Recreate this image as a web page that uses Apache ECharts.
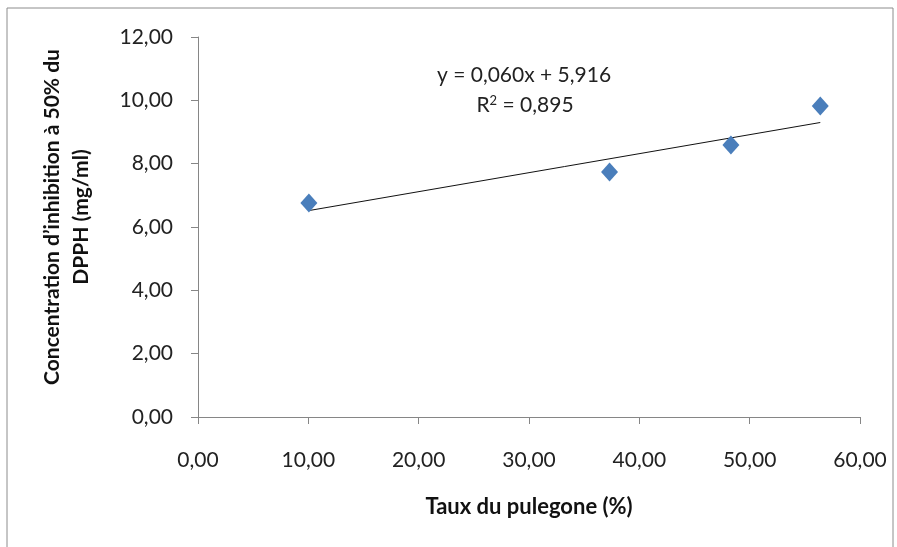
<!DOCTYPE html>
<html><head><meta charset="utf-8">
<script src="https://cdn.jsdelivr.net/npm/echarts@6/dist/echarts.min.js"></script>
<style>html,body{margin:0;padding:0;background:#fff}#c{width:897px;height:547px}</style>
</head><body><div id="c"></div>
<script>
const pulegone = [10.05, 37.3, 48.3, 56.4];
const ic50 = [6.76, 7.74, 8.59, 9.82];
const trendSlope = [0.060];
const trendIntercept = [5.916];
const equationLines = ['y = 0,060x + 5,916', 'R{sup|2} = 0,895'];
const xTitle = 'Taux du pulegone (%)';
const yTitle = 'Concentration d\u2019inhibition à 50% du\nDPPH (mg/ml)';

const pts = pulegone.map((x, i) => [x, ic50[i]]);
const xMin = Math.min(...pulegone), xMax = Math.max(...pulegone);
const trend = [xMin, xMax].map(x => [x, trendSlope[0] * x + trendIntercept[0]]);
const fmt = v => v.toFixed(2).replace('.', ',');
const FONT = 'Lato';

const chart = echarts.init(document.getElementById('c'), null, {renderer: 'canvas'});
chart.setOption({
  animation: false,
  backgroundColor: '#fff',
  textStyle: {fontFamily: FONT},
  grid: {left: 198, right: 37, top: 37, bottom: 130},
  graphic: [
    {type: 'rect', shape: {x: 7, y: 8, width: 886, height: 600}, style: {fill: 'none', stroke: '#8c8c8c', lineWidth: 1}, silent: true},
    {type: 'text', x: 524, y: 75, style: {text: equationLines[0], font: '21px ' + FONT, fill: '#222', align: 'center', verticalAlign: 'middle'}},
    {type: 'text', x: 525, y: 105, style: {text: equationLines[1], font: '21px ' + FONT, fill: '#222', align: 'center', verticalAlign: 'middle', rich: {sup: {fontSize: 13, verticalAlign: 'top', padding: [0, 0, 9, 0], fontFamily: FONT}}}},
    {type: 'text', x: 67, y: 217, rotation: Math.PI / 2, style: {text: yTitle, font: 'bold 21px ' + FONT, fill: '#111', align: 'center', verticalAlign: 'middle', lineHeight: 29}}
  ],
  xAxis: {
    type: 'value', min: 0, max: 60, interval: 10,
    name: xTitle, nameLocation: 'middle', nameGap: 79,
    nameTextStyle: {fontSize: 22, fontWeight: 'bold', color: '#111', fontFamily: FONT},
    axisLine: {lineStyle: {color: '#868686'}},
    axisTick: {show: true, length: 7, lineStyle: {color: '#868686'}},
    splitLine: {show: false},
    axisLabel: {formatter: fmt, fontSize: 21, color: '#222', margin: 33, fontFamily: FONT}
  },
  yAxis: {
    type: 'value', min: 0, max: 12, interval: 2,
    axisLine: {show: true, lineStyle: {color: '#868686'}},
    axisTick: {show: true, length: 7, lineStyle: {color: '#868686'}},
    splitLine: {show: false},
    axisLabel: {formatter: fmt, fontSize: 21, color: '#222', margin: 25, fontFamily: FONT}
  },
  series: [
    {type: 'line', data: trend, symbol: 'none', lineStyle: {color: '#111', width: 1}, z: 2, silent: true},
    {type: 'scatter', data: pts, symbol: 'diamond', symbolSize: [17, 19], itemStyle: {color: '#4a7ebb', opacity: 1}, z: 3}
  ]
});
</script></body></html>
